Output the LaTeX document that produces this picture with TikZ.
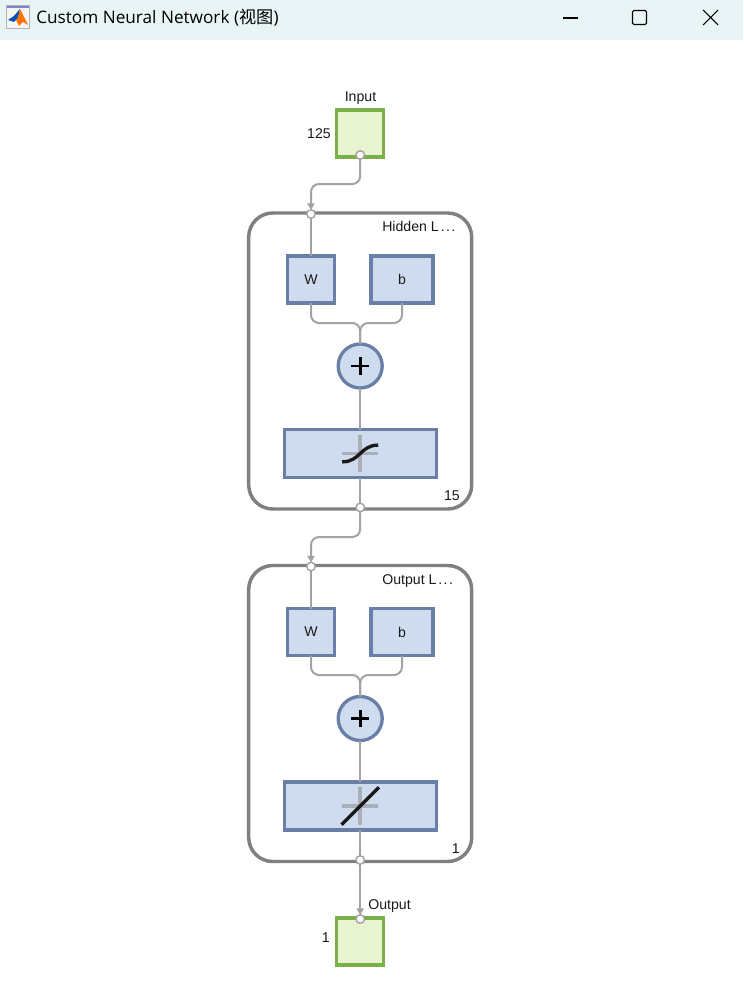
\documentclass[tikz,border=0pt]{standalone}
\usepackage{fontspec}
\setmainfont{Liberation Sans}
\newfontfamily\titlefont{Open Sans}
\newfontfamily\cjk{Noto Sans CJK SC}
\usetikzlibrary{arrows.meta}
\definecolor{barbg}{HTML}{E8F4F5}
\definecolor{wire}{HTML}{A3A3A3}
\definecolor{layeredge}{HTML}{808080}
\definecolor{blueedge}{HTML}{6A7FA6}
\definecolor{bluefill}{HTML}{CFDCF0}
\definecolor{greenedge}{HTML}{7BAF48}
\definecolor{greenfill}{HTML}{E8F3D2}
\definecolor{axisgray}{HTML}{ABB0B8}
\tikzset{
  io/.style={draw=greenedge,fill=greenfill,line width=2.6pt,minimum width=35.25pt,minimum height=35.25pt,outer sep=0pt,inner sep=0pt},
  layerbox/.style={draw=layeredge,line width=2.6pt,rounded corners=18pt,fill=white,minimum width=167.25pt,minimum height=222pt,outer sep=0pt},
  weight/.style={draw=blueedge,fill=bluefill,line width=2.4pt,minimum width=35.25pt,minimum height=35.25pt,outer sep=0pt,inner sep=0pt},
  bias/.style={weight,minimum width=46.5pt},
  sumnode/.style={circle,draw=blueedge,fill=bluefill,line width=2.5pt,minimum size=33pt,outer sep=0pt,inner sep=0pt},
  transfer/.style={weight,minimum width=114pt,minimum height=36pt},
  port/.style={circle,draw=wire,fill=white,line width=1.1pt,minimum size=6.4pt,inner sep=0pt,outer sep=0pt},
  wireline/.style={draw=wire,line width=1.5pt,rounded corners=6pt},
  arrowline/.style={wireline,-{Triangle[length=5pt,width=5.5pt]}},
  lbl/.style={font=\fontsize{10.6pt}{12pt}\selectfont,inner sep=0pt,text=black!90},
  axis/.style={draw=axisgray,line width=2.8pt},
  curveline/.style={draw=black!90,line width=2.5pt},
  ctrl/.style={draw=black,line width=0.8pt}
}
\begin{document}
\begin{tikzpicture}[x=0.75pt,y=-0.75pt]
\useasboundingbox (0,0) rectangle (743,999);
% title bar
\fill[barbg] (0,0) rectangle (743,40);
\fill[white!92!gray] (6,5) rectangle (29,28);
\fill[gray!60!blue!70] (6,5) rectangle (29,8);
\draw[gray!60,line width=0.5pt] (6,5) rectangle (29,28);
\fill[blue!55!cyan!70!black] (8,20) -- (14,16) -- (20,9) -- (18,18) -- (14,22) -- cycle;
\fill[orange!90!red] (20,9) -- (23,15) -- (28,25) -- (23,22) -- (19,26) -- (16,20) -- (18,18) -- cycle;
\node[anchor=west,inner sep=0pt,font=\titlefont\fontsize{12.9pt}{15pt}\selectfont,text=black] (title) at (36,18) {Custom Neural Network ({\cjk 视图})};
\coordinate (mina) at (563,18); \coordinate (minb) at (578,18);
\draw[ctrl] (mina) -- (minb);
\node[draw=black,line width=0.8pt,rounded corners=1pt,minimum width=10.5pt,minimum height=10.5pt,inner sep=0pt,outer sep=0pt] (maxbtn) at (639.5,17.5) {};
\coordinate (xa) at (703,10); \coordinate (xb) at (718,25);
\coordinate (xc) at (718,10); \coordinate (xd) at (703,25);
\draw[ctrl] (xa) -- (xb) (xc) -- (xd);
% layers
\node[layerbox] (hidden) at (360.2,361) {};
\node[layerbox] (outlayer) at (360.2,713.5) {};
% ports
\coordinate (inP) at (360.2,155);
\coordinate (hiddenIn) at (311,214);
\coordinate (hiddenOut) at (360.2,507.5);
\coordinate (outIn) at (311,566.5);
\coordinate (outOut) at (360.2,860);
\coordinate (outP) at (360.2,919);
\coordinate (j1) at (360.2,323);
\coordinate (j2) at (360.2,675);
% blocks
\node[weight] (w1) at (311,279.5) {};
\node[bias] (b1) at (402,279.5) {};
\node[sumnode] (s1) at (360.2,366) {};
\node[transfer] (t1) at (360.2,453.5) {};
\node[weight] (w2) at (311,632) {};
\node[bias] (b2) at (402,632) {};
\node[sumnode] (s2) at (360.2,718.5) {};
\node[transfer] (t2) at (360.2,806) {};
\node[io] (input) at (360.2,133.5) {};
\node[io] (output) at (360.2,941.5) {};
% wires
\draw[wireline] (hiddenIn) -- (w1.north);
\draw[wireline] (w1.south) |- (j1) -- (s1.north);
\draw[wireline] (b1.south) |- (j1) -- (s1.north);
\draw[wireline] (s1.south) -- (t1.north);
\draw[wireline] (t1.south) -- (hiddenOut);
\draw[wireline] (outIn) -- (w2.north);
\draw[wireline] (w2.south) |- (j2) -- (s2.north);
\draw[wireline] (b2.south) |- (j2) -- (s2.north);
\draw[wireline] (s2.south) -- (t2.north);
\draw[wireline] (t2.south) -- (outOut);
\coordinate (m1a) at (360.2,184); \coordinate (m1b) at (311,184);
\draw[arrowline] (inP) -- (m1a) -- (m1b) -- ([yshift=3pt]hiddenIn);
\coordinate (m2a) at (360.2,537); \coordinate (m2b) at (311,537);
\draw[arrowline] (hiddenOut) -- (m2a) -- (m2b) -- ([yshift=3pt]outIn);
\draw[arrowline] (outOut) -- ([yshift=3pt]outP);
\node[port] at (inP) {};
\node[port] at (hiddenIn) {};
\node[port] at (hiddenOut) {};
\node[port] at (outIn) {};
\node[port] at (outOut) {};
\node[port] at (outP) {};
% plus glyphs
\foreach \s in {s1,s2}{
  \draw[black,line width=2.1pt] ([xshift=-6.6pt]\s.center) -- ([xshift=6.6pt]\s.center);
  \draw[black,line width=2.1pt] ([yshift=-6.6pt]\s.center) -- ([yshift=6.6pt]\s.center);
}
% transfer glyphs
\foreach \t in {t1,t2}{
  \draw[axis] ([xshift=-13.5pt]\t.center) -- ([xshift=13.5pt]\t.center);
  \draw[axis] ([yshift=-14pt]\t.center) -- ([yshift=14pt]\t.center);
}
\draw[curveline] ([xshift=-13.5pt,yshift=-6.3pt]t1.center) .. controls ([xshift=0pt,yshift=-6.3pt]t1.center) and ([xshift=0pt,yshift=6.3pt]t1.center) .. ([xshift=13.5pt,yshift=6.3pt]t1.center);
\draw[curveline] ([xshift=-14pt,yshift=-14pt]t2.center) -- ([xshift=14pt,yshift=14pt]t2.center);
% labels
\node[lbl] at (360.5,98) {Input};
\node[lbl,anchor=east] at (331,134) {125};
\node[lbl,anchor=west] at (382,226.5) {Hidden L\kern1.5pt.\kern1pt.\kern1pt.};
\node[lbl] at (w1) {W};
\node[lbl] at (b1) {b};
\node[lbl,anchor=east] at (460,496) {15};
\node[lbl,anchor=west] at (382,581) {Output L\kern1.5pt.\kern1pt.\kern1pt.};
\node[lbl] at (w2) {W};
\node[lbl] at (b2) {b};
\node[lbl,anchor=east] at (460,849) {1};
\node[lbl,anchor=west] at (368,906) {Output};
\node[lbl,anchor=east] at (330,938) {1};
\end{tikzpicture}
\end{document}
